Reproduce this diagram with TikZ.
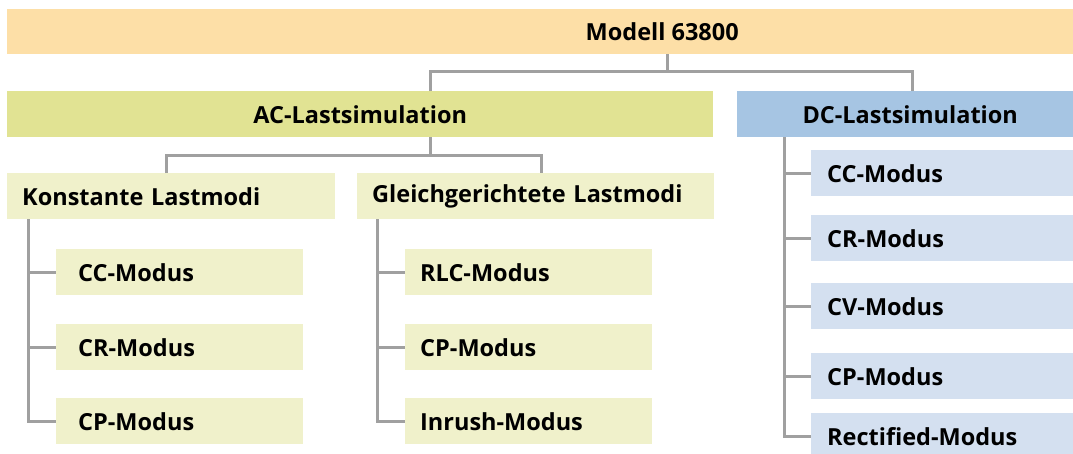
\documentclass[tikz,border=0pt]{standalone}
\usepackage{fontspec}
\setmainfont{Open Sans}
\usetikzlibrary{positioning}

\definecolor{topfill}{HTML}{FDDFA7}
\definecolor{acfill}{HTML}{E1E393}
\definecolor{acsubfill}{HTML}{F0F1CB}
\definecolor{dcfill}{HTML}{A6C5E3}
\definecolor{dcsubfill}{HTML}{D4E0F0}
\definecolor{linegray}{HTML}{A0A0A0}

\begin{document}
\begin{tikzpicture}[x=1pt,y=-1pt]

\tikzstyle{mybox}=[
  rectangle,
  anchor=north west,
  inner sep=0pt,
  minimum height=46pt,
  font=\bfseries\fontsize{23.5}{27}\selectfont]

\tikzstyle{myleft}=[mybox, align=left]

\tikzstyle{myline}=[linegray, line width=3pt]

\useasboundingbox (0,0) rectangle (1073,453);

% top levels
\node[mybox, fill=topfill, minimum width=1310pt, minimum height=45pt] (top) at (7,9) {Modell 63800};
\node[mybox, fill=acfill, minimum width=706pt] (ac) at (7,91) {AC-Lastsimulation};
\node[mybox, fill=dcfill, minimum width=346pt] (dc) at (737,91) {DC-Lastsimulation};

% AC groups
\node[myleft, fill=acsubfill, inner xsep=15pt, text width=298pt] (konst) at (7,173) {Konstante Lastmodi};
\node[myleft, fill=acsubfill, inner xsep=15pt, text width=327pt] (gleich) at (357,173) {Gleichgerichtete Lastmodi};

% modes
\node[myleft, fill=acsubfill, inner xsep=22pt, text width=203pt] (kcc) at (56,249) {CC-Modus};
\node[myleft, fill=acsubfill, inner xsep=22pt, text width=203pt] (kcr) at (56,324) {CR-Modus};
\node[myleft, fill=acsubfill, inner xsep=22pt, text width=203pt] (kcp) at (56,398) {CP-Modus};

\node[myleft, fill=acsubfill, inner xsep=15pt, text width=217pt] (grlc) at (405,249) {RLC-Modus};
\node[myleft, fill=acsubfill, inner xsep=15pt, text width=217pt] (gcp) at (405,324) {CP-Modus};
\node[myleft, fill=acsubfill, inner xsep=15pt, text width=217pt] (ginr) at (405,398) {Inrush-Modus};

\node[myleft, fill=dcsubfill, inner xsep=16pt, text width=230pt] (dcc) at (811,150) {CC-Modus};
\node[myleft, fill=dcsubfill, inner xsep=16pt, text width=230pt] (dcr) at (811,215) {CR-Modus};
\node[myleft, fill=dcsubfill, inner xsep=16pt, text width=230pt] (dcv) at (811,283) {CV-Modus};
\node[myleft, fill=dcsubfill, inner xsep=16pt, text width=230pt] (dcp) at (811,353) {CP-Modus};
\node[myleft, fill=dcsubfill, inner xsep=16pt, text width=230pt] (drect) at (811,413) {Rectified-Modus};

% define points
\path
  (667,71) coordinate(T1)
  (430,71) coordinate(T2)
  (912,71) coordinate(T3)
  (430,155) coordinate(A1)
  (166,155) coordinate(A2)
  (541,155) coordinate(A3)
  (28,0) coordinate(K)
  (377,0) coordinate(G)
  (784,0) coordinate(D)
  ;

% draw lines
\draw[myline] (top.south -| T1) -- (T1);
\draw[myline] (ac.north -| T2) |- (T3) -- (dc.north -| T3);
\draw[myline] (ac.south -| A1) -- (A1);
\draw[myline] (konst.north -| A2) |- (A3) -- (gleich.north -| A3);

\foreach \m in {kcc,kcr,kcp}
  \draw[myline] (konst.south -| K) |- (\m.west);
\foreach \m in {grlc,gcp,ginr}
  \draw[myline] (gleich.south -| G) |- (\m.west);
\foreach \m in {dcc,dcr,dcv,dcp,drect}
  \draw[myline] (dc.south -| D) |- (\m.west);

\end{tikzpicture}
\end{document}
